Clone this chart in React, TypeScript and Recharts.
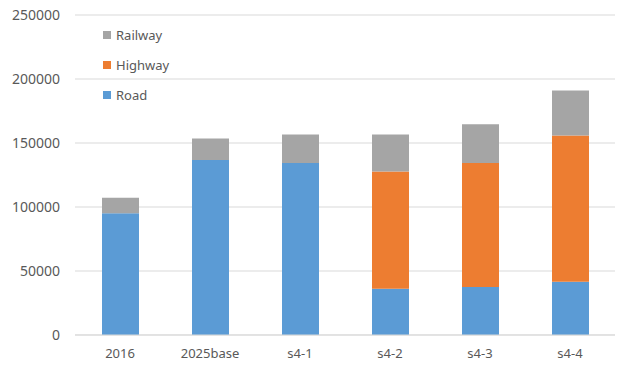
import React from "react";
import { BarChart, Bar, XAxis, YAxis, CartesianGrid } from "recharts";

// ── data ────────────────────────────────────────────────────
const categories = ["2016", "2025base", "s4-1", "s4-2", "s4-3", "s4-4"];
const road = [95200, 136800, 134300, 36100, 37500, 41600];
const highway = [0, 0, 0, 91600, 96800, 114200];
const railway = [12000, 16700, 22300, 28900, 30400, 35200];
const yTicks = [0, 50000, 100000, 150000, 200000, 250000];

const SERIES = [
  { key: "Road", color: "#5B9BD5" },
  { key: "Highway", color: "#ED7D31" },
  { key: "Railway", color: "#A5A5A5" },
];

const data = categories.map((name, i) => ({
  name,
  Road: road[i],
  Highway: highway[i],
  Railway: railway[i],
}));

const FONT = "'Noto Sans', sans-serif";
const TEXT = "#595959";

// Excel draws the legend top-down in reverse stack order; overlaid so it
// doesn't eat into the plot area
function StackLegend() {
  const items = [...SERIES].reverse();
  return (
    <div
      style={{
        position: "absolute",
        left: 103,
        top: 20,
        fontFamily: FONT,
        fontSize: 13,
        color: TEXT,
      }}
    >
      {items.map((s) => (
        <div key={s.key} style={{ display: "flex", alignItems: "center", height: 30 }}>
          <span style={{ width: 8, height: 8, background: s.color, marginRight: 5 }} />
          <span>{s.key}</span>
        </div>
      ))}
    </div>
  );
}

export default function App() {
  return (
    <div style={{ position: "absolute", left: 0, top: 0, width: 617, height: 365, background: "#fff" }}>
      <BarChart
        width={617}
        height={365}
        data={data}
        margin={{ top: 15, right: 2, bottom: 0, left: 0 }}
      >
        <CartesianGrid vertical={false} stroke="#D9D9D9" />
        <XAxis
          dataKey="name"
          height={30}
          axisLine={{ stroke: "#D9D9D9" }}
          tickLine={false}
          tickSize={0}
          tickMargin={14}
          tick={{ fill: TEXT, fontFamily: FONT, fontSize: 13 }}
        />
        <YAxis
          width={75}
          domain={[0, 250000]}
          ticks={yTicks}
          axisLine={false}
          tickLine={false}
          tickSize={0}
          tickMargin={15}
          tick={{ fill: TEXT, fontFamily: FONT, fontSize: 14 }}
        />
        {SERIES.map((s) => (
          <Bar
            key={s.key}
            dataKey={s.key}
            stackId="a"
            fill={s.color}
            barSize={37}
            isAnimationActive={false}
          />
        ))}
      </BarChart>
      <StackLegend />
    </div>
  );
}
